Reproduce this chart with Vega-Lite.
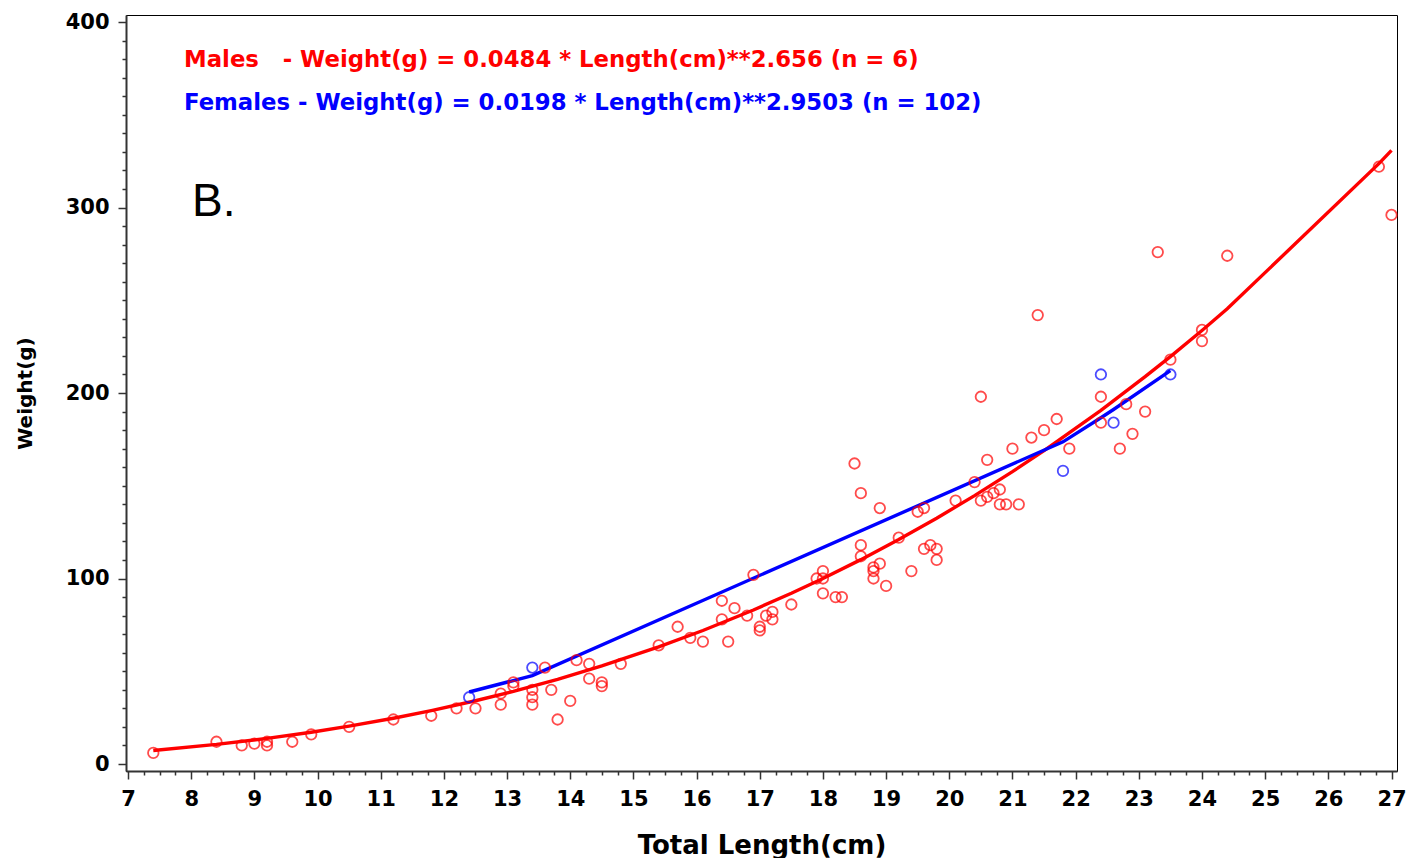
{
  "$schema": "https://vega.github.io/schema/vega-lite/v6.json",
  "width": 1271,
  "height": 756,
  "autosize": "none",
  "padding": {"left": 126, "top": 15, "right": 12, "bottom": 87},
  "background": "white",
  "config": {
    "view": {"stroke": "#000000", "strokeWidth": 1},
    "axis": {"grid": false, "domainColor": "#333333", "domainWidth": 2, "tickColor": "#333333", "tickWidth": 1.5, "labelColor": "#000000", "titleColor": "#000000", "labelOverlap": false, "labelFlush": false, "labelBound": false}
  },
  "datasets": {
    "pts": [
      {"len": 7.4, "wt": 6, "sex": "F"},
      {"len": 8.4, "wt": 12, "sex": "F"},
      {"len": 8.8, "wt": 10, "sex": "F"},
      {"len": 9.0, "wt": 11, "sex": "F"},
      {"len": 9.2, "wt": 10, "sex": "F"},
      {"len": 9.2, "wt": 12, "sex": "F"},
      {"len": 9.6, "wt": 12, "sex": "F"},
      {"len": 9.9, "wt": 16, "sex": "F"},
      {"len": 10.5, "wt": 20, "sex": "F"},
      {"len": 11.2, "wt": 24, "sex": "F"},
      {"len": 11.8, "wt": 26, "sex": "F"},
      {"len": 12.2, "wt": 30, "sex": "F"},
      {"len": 12.5, "wt": 30, "sex": "F"},
      {"len": 12.9, "wt": 32, "sex": "F"},
      {"len": 12.9, "wt": 38, "sex": "F"},
      {"len": 13.1, "wt": 42, "sex": "F"},
      {"len": 13.1, "wt": 44, "sex": "F"},
      {"len": 13.4, "wt": 40, "sex": "F"},
      {"len": 13.4, "wt": 36, "sex": "F"},
      {"len": 13.4, "wt": 32, "sex": "F"},
      {"len": 13.6, "wt": 52, "sex": "F"},
      {"len": 13.7, "wt": 40, "sex": "F"},
      {"len": 13.8, "wt": 24, "sex": "F"},
      {"len": 14.0, "wt": 34, "sex": "F"},
      {"len": 14.1, "wt": 56, "sex": "F"},
      {"len": 14.3, "wt": 54, "sex": "F"},
      {"len": 14.3, "wt": 46, "sex": "F"},
      {"len": 14.5, "wt": 44, "sex": "F"},
      {"len": 14.5, "wt": 42, "sex": "F"},
      {"len": 14.8, "wt": 54, "sex": "F"},
      {"len": 15.4, "wt": 64, "sex": "F"},
      {"len": 15.7, "wt": 74, "sex": "F"},
      {"len": 15.9, "wt": 68, "sex": "F"},
      {"len": 16.1, "wt": 66, "sex": "F"},
      {"len": 16.4, "wt": 88, "sex": "F"},
      {"len": 16.4, "wt": 78, "sex": "F"},
      {"len": 16.6, "wt": 84, "sex": "F"},
      {"len": 16.5, "wt": 66, "sex": "F"},
      {"len": 16.8, "wt": 80, "sex": "F"},
      {"len": 16.9, "wt": 102, "sex": "F"},
      {"len": 17.0, "wt": 74, "sex": "F"},
      {"len": 17.0, "wt": 72, "sex": "F"},
      {"len": 17.1, "wt": 80, "sex": "F"},
      {"len": 17.2, "wt": 82, "sex": "F"},
      {"len": 17.2, "wt": 78, "sex": "F"},
      {"len": 17.5, "wt": 86, "sex": "F"},
      {"len": 17.9, "wt": 100, "sex": "F"},
      {"len": 18.0, "wt": 104, "sex": "F"},
      {"len": 18.0, "wt": 100, "sex": "F"},
      {"len": 18.0, "wt": 92, "sex": "F"},
      {"len": 18.2, "wt": 90, "sex": "F"},
      {"len": 18.3, "wt": 90, "sex": "F"},
      {"len": 18.5, "wt": 162, "sex": "F"},
      {"len": 18.6, "wt": 146, "sex": "F"},
      {"len": 18.6, "wt": 118, "sex": "F"},
      {"len": 18.6, "wt": 112, "sex": "F"},
      {"len": 18.8, "wt": 106, "sex": "F"},
      {"len": 18.8, "wt": 104, "sex": "F"},
      {"len": 18.9, "wt": 108, "sex": "F"},
      {"len": 18.8, "wt": 100, "sex": "F"},
      {"len": 19.0, "wt": 96, "sex": "F"},
      {"len": 18.9, "wt": 138, "sex": "F"},
      {"len": 19.2, "wt": 122, "sex": "F"},
      {"len": 19.4, "wt": 104, "sex": "F"},
      {"len": 19.5, "wt": 136, "sex": "F"},
      {"len": 19.6, "wt": 138, "sex": "F"},
      {"len": 19.6, "wt": 116, "sex": "F"},
      {"len": 19.7, "wt": 118, "sex": "F"},
      {"len": 19.8, "wt": 116, "sex": "F"},
      {"len": 19.8, "wt": 110, "sex": "F"},
      {"len": 20.1, "wt": 142, "sex": "F"},
      {"len": 20.4, "wt": 152, "sex": "F"},
      {"len": 20.5, "wt": 142, "sex": "F"},
      {"len": 20.6, "wt": 144, "sex": "F"},
      {"len": 20.7, "wt": 146, "sex": "F"},
      {"len": 20.8, "wt": 148, "sex": "F"},
      {"len": 20.8, "wt": 140, "sex": "F"},
      {"len": 20.9, "wt": 140, "sex": "F"},
      {"len": 21.1, "wt": 140, "sex": "F"},
      {"len": 20.5, "wt": 198, "sex": "F"},
      {"len": 20.6, "wt": 164, "sex": "F"},
      {"len": 21.0, "wt": 170, "sex": "F"},
      {"len": 21.3, "wt": 176, "sex": "F"},
      {"len": 21.5, "wt": 180, "sex": "F"},
      {"len": 21.7, "wt": 186, "sex": "F"},
      {"len": 21.9, "wt": 170, "sex": "F"},
      {"len": 21.4, "wt": 242, "sex": "F"},
      {"len": 22.4, "wt": 198, "sex": "F"},
      {"len": 22.4, "wt": 184, "sex": "F"},
      {"len": 22.8, "wt": 194, "sex": "F"},
      {"len": 23.1, "wt": 190, "sex": "F"},
      {"len": 22.9, "wt": 178, "sex": "F"},
      {"len": 22.7, "wt": 170, "sex": "F"},
      {"len": 23.3, "wt": 276, "sex": "F"},
      {"len": 23.5, "wt": 218, "sex": "F"},
      {"len": 24.0, "wt": 234, "sex": "F"},
      {"len": 24.0, "wt": 228, "sex": "F"},
      {"len": 24.4, "wt": 274, "sex": "F"},
      {"len": 26.8, "wt": 322, "sex": "F"},
      {"len": 27.0, "wt": 296, "sex": "F"},
      {"len": 12.4, "wt": 36, "sex": "M"},
      {"len": 13.4, "wt": 52, "sex": "M"},
      {"len": 21.8, "wt": 158, "sex": "M"},
      {"len": 22.4, "wt": 210, "sex": "M"},
      {"len": 22.6, "wt": 184, "sex": "M"},
      {"len": 23.5, "wt": 210, "sex": "M"}
    ],
    "fit": [
      {"len": 7.4, "wt": 7.26, "sex": "F"},
      {"len": 8.4, "wt": 10.56, "sex": "F"},
      {"len": 9.2, "wt": 13.81, "sex": "F"},
      {"len": 9.9, "wt": 17.14, "sex": "F"},
      {"len": 10.5, "wt": 20.39, "sex": "F"},
      {"len": 11.2, "wt": 24.67, "sex": "F"},
      {"len": 11.8, "wt": 28.78, "sex": "F"},
      {"len": 12.5, "wt": 34.11, "sex": "F"},
      {"len": 13.1, "wt": 39.17, "sex": "F"},
      {"len": 13.8, "wt": 45.67, "sex": "F"},
      {"len": 14.5, "wt": 52.85, "sex": "F"},
      {"len": 15.4, "wt": 63.12, "sex": "F"},
      {"len": 16.1, "wt": 71.97, "sex": "F"},
      {"len": 16.9, "wt": 83.04, "sex": "F"},
      {"len": 17.5, "wt": 92.05, "sex": "F"},
      {"len": 18.0, "wt": 100.02, "sex": "F"},
      {"len": 18.6, "wt": 110.18, "sex": "F"},
      {"len": 19.2, "wt": 121.0, "sex": "F"},
      {"len": 19.8, "wt": 132.51, "sex": "F"},
      {"len": 20.4, "wt": 144.7, "sex": "F"},
      {"len": 21.0, "wt": 157.62, "sex": "F"},
      {"len": 21.5, "wt": 168.95, "sex": "F"},
      {"len": 22.4, "wt": 190.68, "sex": "F"},
      {"len": 23.1, "wt": 208.8, "sex": "F"},
      {"len": 23.5, "wt": 219.64, "sex": "F"},
      {"len": 24.0, "wt": 233.73, "sex": "F"},
      {"len": 24.4, "wt": 245.39, "sex": "F"},
      {"len": 26.8, "wt": 323.66, "sex": "F"},
      {"len": 27.0, "wt": 330.83, "sex": "F"},
      {"len": 12.4, "wt": 38.81, "sex": "M"},
      {"len": 13.4, "wt": 47.69, "sex": "M"},
      {"len": 21.8, "wt": 173.7, "sex": "M"},
      {"len": 22.4, "wt": 186.68, "sex": "M"},
      {"len": 22.6, "wt": 191.14, "sex": "M"},
      {"len": 23.5, "wt": 212.03, "sex": "M"}
    ],
    "notes": [
      {"label": "Males\u00a0\u00a0 - Weight(g) = 0.0484 * Length(cm)**2.656 (n = 6)", "sex": "F", "row": 1},
      {"label": "Females - Weight(g) = 0.0198 * Length(cm)**2.9503 (n = 102)", "sex": "M", "row": 2},
      {"label": "B.", "sex": "K", "row": 3}
    ]
  },
  "encoding": {
    "x": {"field": "len", "type": "quantitative", "scale": {"domain": [6.968, 27.087], "nice": false, "zero": false},
      "axis": {"orient": "bottom",
        "values": [7,7.25,7.5,7.75,8,8.25,8.5,8.75,9,9.25,9.5,9.75,10,10.25,10.5,10.75,11,11.25,11.5,11.75,12,12.25,12.5,12.75,13,13.25,13.5,13.75,14,14.25,14.5,14.75,15,15.25,15.5,15.75,16,16.25,16.5,16.75,17,17.25,17.5,17.75,18,18.25,18.5,18.75,19,19.25,19.5,19.75,20,20.25,20.5,20.75,21,21.25,21.5,21.75,22,22.25,22.5,22.75,23,23.25,23.5,23.75,24,24.25,24.5,24.75,25,25.25,25.5,25.75,26,26.25,26.5,26.75,27],
        "labelExpr": "datum.value % 1 == 0 ? format(datum.value, 'd') : ''",
        "tickSize": {"condition": {"test": "datum.value % 1 == 0", "value": 8}, "value": 4},
        "labelFont": "DejaVu Sans", "labelFontWeight": "bold", "labelFontSize": 21, "labelPadding": 9,
        "title": "Total Length(cm)", "titleFont": "DejaVu Sans", "titleFontWeight": "bold", "titleFontSize": 26, "titleY": 74, "titleBaseline": "middle"}},
    "y": {"field": "wt", "type": "quantitative", "scale": {"domain": [-3.77, 403.8], "nice": false, "zero": false},
      "axis": {"orient": "left",
        "values": [0,10,20,30,40,50,60,70,80,90,100,110,120,130,140,150,160,170,180,190,200,210,220,230,240,250,260,270,280,290,300,310,320,330,340,350,360,370,380,390,400],
        "labelExpr": "datum.value % 100 == 0 ? format(datum.value, 'd') : ''",
        "tickSize": {"condition": {"test": "datum.value % 100 == 0", "value": 8}, "value": 4},
        "labelFont": "DejaVu Sans", "labelFontWeight": "bold", "labelFontSize": 21, "labelPadding": 9,
        "title": "Weight(g)", "titleFont": "DejaVu Sans", "titleFontWeight": "bold", "titleFontSize": 20, "titleX": -101, "titleY": 378, "titleAngle": -90, "titleBaseline": "middle", "titleAlign": "center"}},
    "color": {"field": "sex", "type": "nominal", "scale": {"domain": ["F", "M", "K"], "range": ["#ff0000", "#0000ff", "#000000"]}, "legend": null}
  },
  "layer": [
    {
      "data": {"name": "fit"},
      "mark": {"type": "line", "strokeWidth": 3.4},
      "encoding": {
        "order": {"field": "len", "type": "quantitative"}
      }
    },
    {
      "data": {"name": "pts"},
      "mark": {"type": "point", "shape": "circle", "filled": false, "size": 110, "strokeWidth": 1.8}
    },
    {
      "data": {"name": "notes"},
      "transform": [{"filter": "datum.row == 1"}],
      "mark": {"type": "text", "align": "left", "baseline": "middle", "font": "DejaVu Sans", "fontWeight": "bold", "fontSize": 22.8,
        "x": {"expr": "scale('x', 7.886)"}, "y": {"expr": "scale('y', 379.5)"}},
      "encoding": {
        "x": null,
        "y": null,
        "text": {"field": "label"}
      }
    },
    {
      "data": {"name": "notes"},
      "transform": [{"filter": "datum.row == 2"}],
      "mark": {"type": "text", "align": "left", "baseline": "middle", "font": "DejaVu Sans", "fontWeight": "bold", "fontSize": 22.8,
        "x": {"expr": "scale('x', 7.886)"}, "y": {"expr": "scale('y', 356.3)"}},
      "encoding": {
        "x": null,
        "y": null,
        "text": {"field": "label"}
      }
    },
    {
      "data": {"name": "notes"},
      "transform": [{"filter": "datum.row == 3"}],
      "mark": {"type": "text", "align": "left", "baseline": "middle", "font": "Liberation Sans", "fontSize": 46,
        "x": {"expr": "scale('x', 8.013)"}, "y": {"expr": "scale('y', 303)"}},
      "encoding": {
        "x": null,
        "y": null,
        "text": {"field": "label"}
      }
    }
  ]
}
